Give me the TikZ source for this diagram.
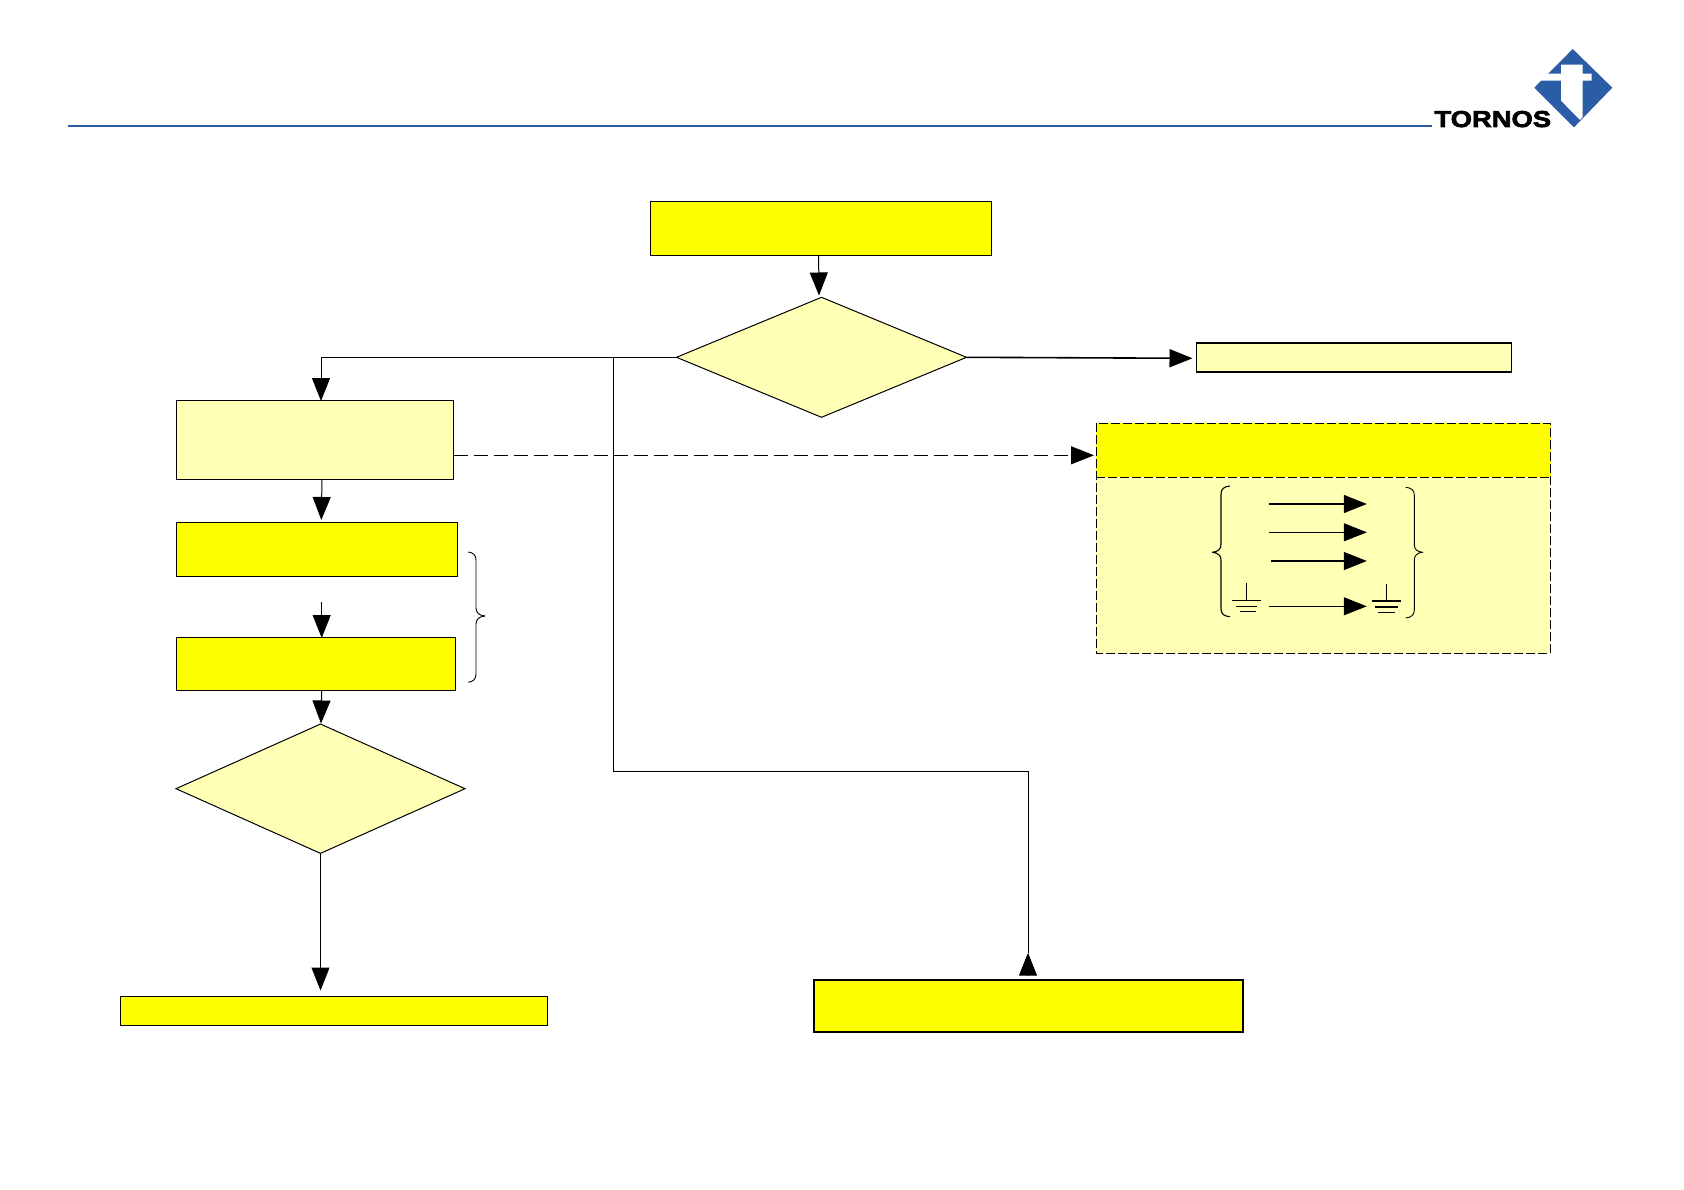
\documentclass[tikz,border=0pt]{standalone}
\usepackage{fontspec}
\usetikzlibrary{arrows.meta,shapes.geometric}
\newfontfamily\logofont[FakeStretch=1.19,FakeBold=3]{Liberation Sans Bold}
\definecolor{yel}{HTML}{FFFF00}
\definecolor{pale}{HTML}{FFFFB5}
\definecolor{logoblue}{HTML}{2B5CA6}
\tikzset{
  x=1pt,y=-1pt,
  boxbase/.style={rectangle,draw=black,line width=1pt,inner sep=0pt,outer sep=0pt},
  ybox/.style={boxbase,fill=yel},
  pbox/.style={boxbase,fill=pale},
  dia/.style={diamond,draw=black,line width=1pt,fill=pale,inner sep=0pt,outer sep=0pt,shape aspect=2},
  conn/.style={line width=1pt,-{Triangle[length=23pt,width=18pt]}},
  plain/.style={line width=1pt},
  dashconn/.style={line width=1pt,dash pattern=on 14pt off 6pt,-{Triangle[length=23pt,width=18pt]}},
  frameline/.style={line width=1pt,dash pattern=on 9pt off 3pt},
  bracel/.style={line width=0.9pt,line join=round},
  gnd/.style={line width=0.8pt},
  gndb/.style={line width=1.6pt},
}
\begin{document}
\begin{tikzpicture}
\useasboundingbox (0,0) rectangle (1684,1190);
% header
\coordinate (hl) at (67.7,126);
\coordinate (hr) at (1432,126);
\draw[logoblue,line width=1.5pt] (hl) -- (hr);
% logo
\fill[logoblue] (1572.7,49) -- (1612.3,87.7) -- (1574,127.3) -- (1534.3,87.7) -- cycle;
\fill[white] (1561,64.7) -- (1582.7,64.7) -- (1582.7,73.7) -- (1591.7,73.7) -- (1591.7,80.7) -- (1582.7,80.7) -- (1582.7,117) -- (1580,120) -- (1561,100.7) -- (1561,80.7) -- (1540,80.7) -- (1540,73.7) -- (1561,73.7) -- cycle;
\node[anchor=base west,inner sep=0pt,outer sep=0pt,text=black,font=\fontsize{23}{23}\logofont] (logotext) at (1434.5,127) {TORNOS};
% nodes
\node[ybox,minimum width=341pt,minimum height=54.2pt] (start) at (820.7,228.5) {};
\node[dia,minimum width=290pt,minimum height=120pt] (d1) at (821.5,357.3) {};
\node[pbox,line width=1.4pt,minimum width=315pt,minimum height=29pt] (right) at (1354.2,357.4) {};
\node[pbox,minimum width=277.4pt,minimum height=79pt] (a) at (315,439.8) {};
\node[ybox,minimum width=281.4pt,minimum height=54pt] (b) at (317,549.3) {};
\node[ybox,minimum width=279.4pt,minimum height=53pt] (c) at (316,663.8) {};
\node[dia,minimum width=289pt,minimum height=129.3pt] (d2) at (320.5,788.7) {};
\node[ybox,minimum width=427.4pt,minimum height=29.7pt] (bottom) at (334,1010.85) {};
\node[ybox,line width=2pt,minimum width=428.7pt,minimum height=52.2pt] (end) at (1028.65,1005.9) {};
% dashed frame
\node[rectangle,fill=pale,draw=none,inner sep=0pt,outer sep=0pt,minimum width=453.7pt,minimum height=230pt] (frame) at (1323.15,538.3) {};
\node[rectangle,fill=yel,draw=none,inner sep=0pt,outer sep=0pt,minimum width=454.4pt,minimum height=54pt] (head) at (1323.5,450.3) {};
\draw[frameline] (frame.north west) rectangle (frame.south east);
\draw[frameline] (head.south west) -- (head.south east);
% connectors
\coordinate (d1tip) at (819,295.5);
\coordinate (d1from) at (818.6,255.6);
\draw[conn] (d1from) -- (d1tip);
\coordinate (righttip) at (1192.5,358.3);
\draw[conn,line width=1.6pt] (d1.east) -- (righttip);
\coordinate (atop) at (321,401);
\draw[conn] (d1.west) -| (atop);
\coordinate (branch) at (613.8,357);
\coordinate (c1) at (613.8,771.7);
\coordinate (c2) at (1028,771.7);
\coordinate (etip) at (1028,952.7);
\coordinate (ebase) at (1028,975.3);
\draw[plain] (d1.west -| branch) -- (c1) -- (c2) -- (etip);
\draw[conn] (ebase) -- (etip);
\coordinate (ab1) at (322,480);
\coordinate (ab2) at (321.3,520);
\draw[conn] (ab1) -- (ab2);
\coordinate (bc1) at (321.7,602);
\coordinate (bc2) at (321.7,638);
\draw[conn] (bc1) -- (bc2);
\coordinate (cd1) at (321.7,691);
\coordinate (cd2) at (321,723.5);
\draw[conn] (cd1) -- (cd2);
\coordinate (bt) at (320.5,990.5);
\draw[conn] (d2.south) -- (bt);
\coordinate (ds) at (453.7,455.3);
\coordinate (de) at (1094,455.3);
\draw[dashconn] (ds) -- (de);
% brace beside b/c
\draw[bracel] (468.3,552) .. controls (473,552.5) and (476,555) .. (476,560) -- (476,608) .. controls (476,612.5) and (479,615.5) .. (485,616) .. controls (479,616.5) and (476,619.5) .. (476,624) -- (476,674) .. controls (476,679) and (473,681.8) .. (468.3,682.3);
% braces in the frame
\draw[bracel,line width=1.1pt] (1230,486) .. controls (1224,486.5) and (1221,489) .. (1221,494) -- (1221,544.5) .. controls (1221,549) and (1218,551.8) .. (1212.3,552.3) .. controls (1218,552.8) and (1221,555.5) .. (1221,560) -- (1221,609) .. controls (1221,614) and (1224,616.2) .. (1230,616.7);
\draw[bracel] (1405.7,487.3) .. controls (1411,487.8) and (1414.3,490) .. (1414.3,495) -- (1414.3,544.5) .. controls (1414.3,549) and (1417,551.8) .. (1422.7,552.3) .. controls (1417,552.8) and (1414.3,555.5) .. (1414.3,560) -- (1414.3,610) .. controls (1414.3,615) and (1411,617.5) .. (1405.7,618);
% arrows in the frame
\coordinate (r1a) at (1269,504); \coordinate (r1b) at (1366.8,504);
\coordinate (r2a) at (1269,532.3); \coordinate (r2b) at (1366.8,532.3);
\coordinate (r3a) at (1270.7,561); \coordinate (r3b) at (1366.8,561);
\coordinate (r4a) at (1269,606.3); \coordinate (r4b) at (1366.8,606.3);
\draw[conn,line width=1.7pt] (r1a) -- (r1b);
\draw[conn] (r2a) -- (r2b);
\draw[conn,line width=1.3pt] (r3a) -- (r3b);
\draw[conn] (r4a) -- (r4b);
% grounds
\draw[gnd] (1246.3,582.7) -- (1246.3,600.3);
\draw[gnd] (1232,600.3) -- (1261.3,600.3);
\draw[gnd] (1236,606) -- (1257.3,606);
\draw[gnd] (1240,611.3) -- (1256,611.3);
\draw[gnd] (1386.3,584) -- (1386.3,600.7);
\draw[gndb] (1371.7,600.7) -- (1401,600.7);
\draw[gndb] (1375,606.7) -- (1398.3,606.7);
\draw[gnd] (1377.7,612) -- (1395,612);
\end{tikzpicture}
\end{document}
